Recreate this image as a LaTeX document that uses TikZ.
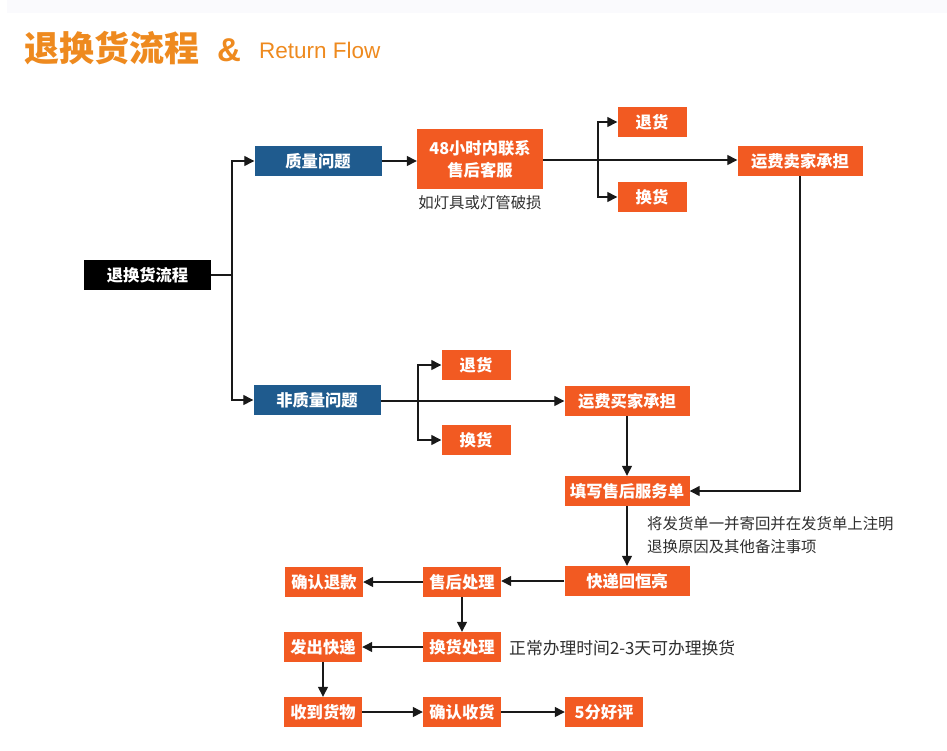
\documentclass[tikz,border=0pt]{standalone}
\usepackage{fontspec}
\usetikzlibrary{arrows.meta}
\newfontfamily\cjk{Noto Sans CJK SC}
\newfontfamily\latn{Liberation Sans}
\definecolor{boxor}{HTML}{F25A22}
\definecolor{boxbl}{HTML}{1F5B8E}
\definecolor{titleor}{HTML}{EE8A1F}
\definecolor{notegray}{HTML}{2E2E2E}
\definecolor{band}{HTML}{FAFAFD}
\tikzset{
  base/.style={inner sep=0pt, text=white, font=\cjk\bfseries\fontsize{16.3}{18}\selectfont, minimum height=30pt},
  orbox/.style={base, fill=boxor},
  blbox/.style={base, fill=boxbl},
  bkbox/.style={base, fill=black},
  note/.style={inner sep=0pt, text=notegray, font=\cjk\fontsize{15.4}{23}\selectfont, align=left},
  conn/.style={line width=1.3pt, draw=black!90, -{Triangle[length=10pt,width=10pt]}},
  plain/.style={line width=1.3pt, draw=black!90},
}
\begin{document}
\begin{tikzpicture}[x=1pt,y=-1pt]
\useasboundingbox (0,0) rectangle (947,750);
\fill[band] (7,0) rectangle (947,13);
% title
\node[anchor=base west, inner sep=0pt, text=titleor, font=\cjk\bfseries\fontsize{35}{35}\selectfont] (t1t) at (24,61) {退换货流程};
\node[anchor=base west, inner sep=0pt, text=titleor, font=\latn\bfseries\fontsize{33}{33}\selectfont] (t2t) at (217,61) {\&};
\node[anchor=base west, inner sep=0pt, text=titleor, font=\latn\fontsize{22.5}{22.5}\selectfont] (t3t) at (259,58) {Return Flow};
% nodes
\node[bkbox, minimum width=127pt] (root) at (147.5,275) {退换货流程};
\node[blbox, minimum width=127pt] (q) at (318,161) {质量问题};
\node[orbox, minimum width=126pt, minimum height=60pt, align=center, font=\cjk\bfseries\fontsize{16.3}{22}\selectfont] (c48) at (480,159) {48小时内联系\\售后客服};
\node[note, anchor=center] (cap1) at (480,203) {如灯具或灯管破损};
\node[orbox, minimum width=69pt] (ta) at (652,122) {退货};
\node[orbox, minimum width=69pt] (ha) at (652,197) {换货};
\node[orbox, minimum width=125pt] (ys) at (800,161) {运费卖家承担};
\node[blbox, minimum width=127pt] (nq) at (317,400) {非质量问题};
\node[orbox, minimum width=69pt] (tb) at (476,365) {退货};
\node[orbox, minimum width=69pt] (hb) at (476,440) {换货};
\node[orbox, minimum width=125pt] (yb) at (627,401) {运费买家承担};
\node[orbox, minimum width=125pt] (fw) at (627,491) {填写售后服务单};
\node[note, anchor=west] (note1) at (647,535) {将发货单一并寄回并在发货单上注明\\退换原因及其他备注事项};
\node[orbox, minimum width=125pt] (kd) at (627,581) {快递回恒亮};
\node[orbox, minimum width=78pt] (sh) at (462,582) {售后处理};
\node[orbox, minimum width=78pt] (qr) at (324,582) {确认退款};
\node[orbox, minimum width=78pt] (hh) at (462,647) {换货处理};
\node[note, anchor=west, font=\cjk\fontsize{16.8}{20}\selectfont] (note2) at (509,648) {正常办理时间2-3天可办理换货};
\node[orbox, minimum width=78pt] (fc) at (323,647) {发出快递};
\node[orbox, minimum width=78pt] (sd) at (323,712) {收到货物};
\node[orbox, minimum width=78pt] (qs) at (462,712) {确认收货};
\node[orbox, minimum width=78pt] (hp) at (604,712) {5分好评};
% connectors
\coordinate (j1) at (232,275);
\draw[plain] (root.east) -- (j1);
\draw[conn] (j1) |- (q.west);
\draw[conn] (j1) |- (nq.west);
\draw[conn] (q.east) -- (q.east -| c48.west);
\coordinate (b1) at (598,160);
\draw[plain] (c48.east |- b1) -- (b1);
\draw[conn] (b1) -- (b1 -| ys.west);
\draw[conn] (b1) |- (ta.west);
\draw[conn] (b1) |- (ha.west);
\draw[conn] (ys.south) |- (fw.east);
\coordinate (b2) at (418,401);
\draw[plain] (nq.east |- b2) -- (b2);
\draw[conn] (b2) -- (yb.west);
\draw[conn] (b2) |- (tb.west);
\draw[conn] (b2) |- (hb.west);
\draw[conn] (yb.south) -- (fw.north);
\draw[conn] (fw.south) -- (kd.north);
\draw[conn] (kd.west) -- (kd.west -| sh.east);
\draw[conn] (sh.west) -- (sh.west -| qr.east);
\draw[conn] (sh.south) -- (hh.north);
\draw[conn] (hh.west) -- (hh.west -| fc.east);
\draw[conn] (fc.south) -- (sd.north);
\draw[conn] (sd.east) -- (qs.west);
\draw[conn] (qs.east) -- (hp.west);
\end{tikzpicture}
\end{document}
